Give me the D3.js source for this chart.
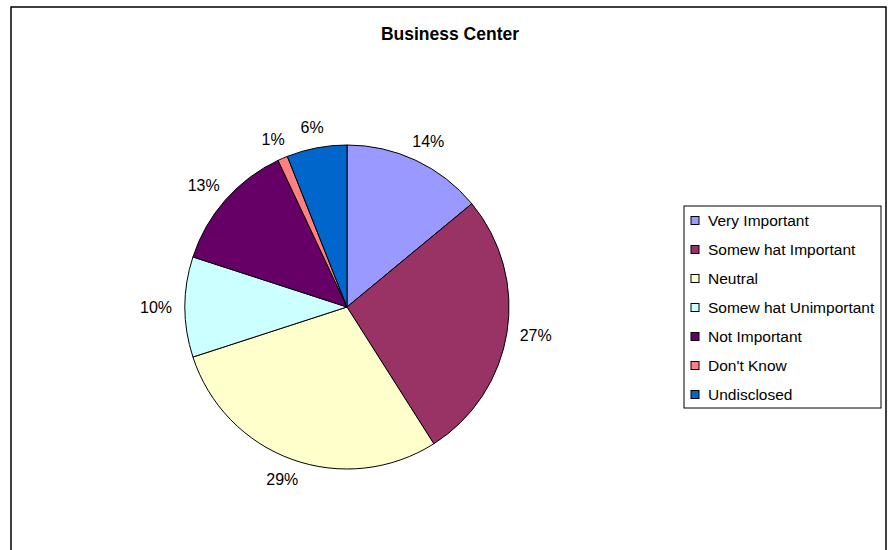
<!DOCTYPE html>
<meta charset="utf-8">
<style>
  body { margin: 0; background: #fff; }
  text { font-family: "Liberation Sans", Arial, sans-serif; fill: #000; }
</style>
<script src="https://d3js.org/d3.v7.min.js"></script>
<div id="chart"></div>
<script>

// data
var categories = ["Very Important", "Somew hat Important", "Neutral", "Somew hat Unimportant",
                  "Not Important", "Don't Know", "Undisclosed"];
var values = [14, 27, 29, 10, 13, 1, 6];
var colors = ["#9999FF", "#993366", "#FFFFCC", "#CCFFFF", "#660066", "#FF8080", "#0066CC"];
var title = "Business Center";

var width = 888, height = 550;
var cx = 347, cy = 307, radius = 162;

var svg = d3.select("#chart")
  .append("svg")
    .attr("width", width)
    .attr("height", height);

// outer chart border (runs off the bottom)
svg.append("rect")
  .attr("x", 11).attr("y", 7)
  .attr("width", 875).attr("height", 560)
  .attr("fill", "none")
  .attr("stroke", "#000")
  .attr("stroke-width", 1.5);

svg.append("text")
  .attr("x", 450).attr("y", 40)
  .attr("text-anchor", "middle")
  .style("font-size", "17.5px")
  .style("font-weight", "bold")
  .text(title);

var data = categories.map(function(c, i) { return {name: c, value: values[i], color: colors[i]}; });

var pie = d3.pie()
  .sort(null)
  .value(function(d) { return d.value; });

var arc = d3.arc().innerRadius(0).outerRadius(radius);

var g = svg.append("g")
  .attr("transform", "translate(" + cx + "," + cy + ")");

var arcs = pie(data);

g.selectAll("path")
  .data(arcs)
  .enter()
  .append("path")
    .attr("d", arc)
    .attr("fill", function(d) { return d.data.color; })
    .attr("stroke", "#000")
    .attr("stroke-width", 1);

// percent labels, box pushed outward from a point just past the rim
var labelR = radius + 14;
g.selectAll("text.pct")
  .data(arcs)
  .enter()
  .append("text")
    .attr("class", "pct")
    .attr("text-anchor", "middle")
    .attr("dominant-baseline", "central")
    .style("font-size", "16px")
    .each(function(d) {
      var a = (d.startAngle + d.endAngle) / 2;
      var s = Math.sin(a), c = Math.cos(a);
      var txt = d.data.value + "%";
      var w = txt.length * 10, h = 14;
      d3.select(this)
        .attr("x", labelR * s + s * w / 2)
        .attr("y", -labelR * c - c * h / 2)
        .text(txt);
    });

// legend
var legX = 684, legY = 206, legW = 197, legH = 202, rowH = 29;

svg.append("rect")
  .attr("x", legX).attr("y", legY)
  .attr("width", legW).attr("height", legH)
  .attr("fill", "#fff")
  .attr("stroke", "#000")
  .attr("stroke-width", 1);

var legend = svg.selectAll("g.leg")
  .data(data)
  .enter()
  .append("g")
    .attr("class", "leg")
    .attr("transform", function(d, i) { return "translate(" + (legX + 7) + "," + (legY + 14.5 + i * rowH) + ")"; });

legend.append("rect")
  .attr("x", 0).attr("y", -4)
  .attr("width", 8).attr("height", 8)
  .attr("fill", function(d) { return d.color; })
  .attr("stroke", "#000")
  .attr("stroke-width", 1);

legend.append("text")
  .attr("x", 17)
  .attr("y", 0)
  .attr("dominant-baseline", "central")
  .style("font-size", "15.5px")
  .text(function(d) { return d.name; });

</script>
